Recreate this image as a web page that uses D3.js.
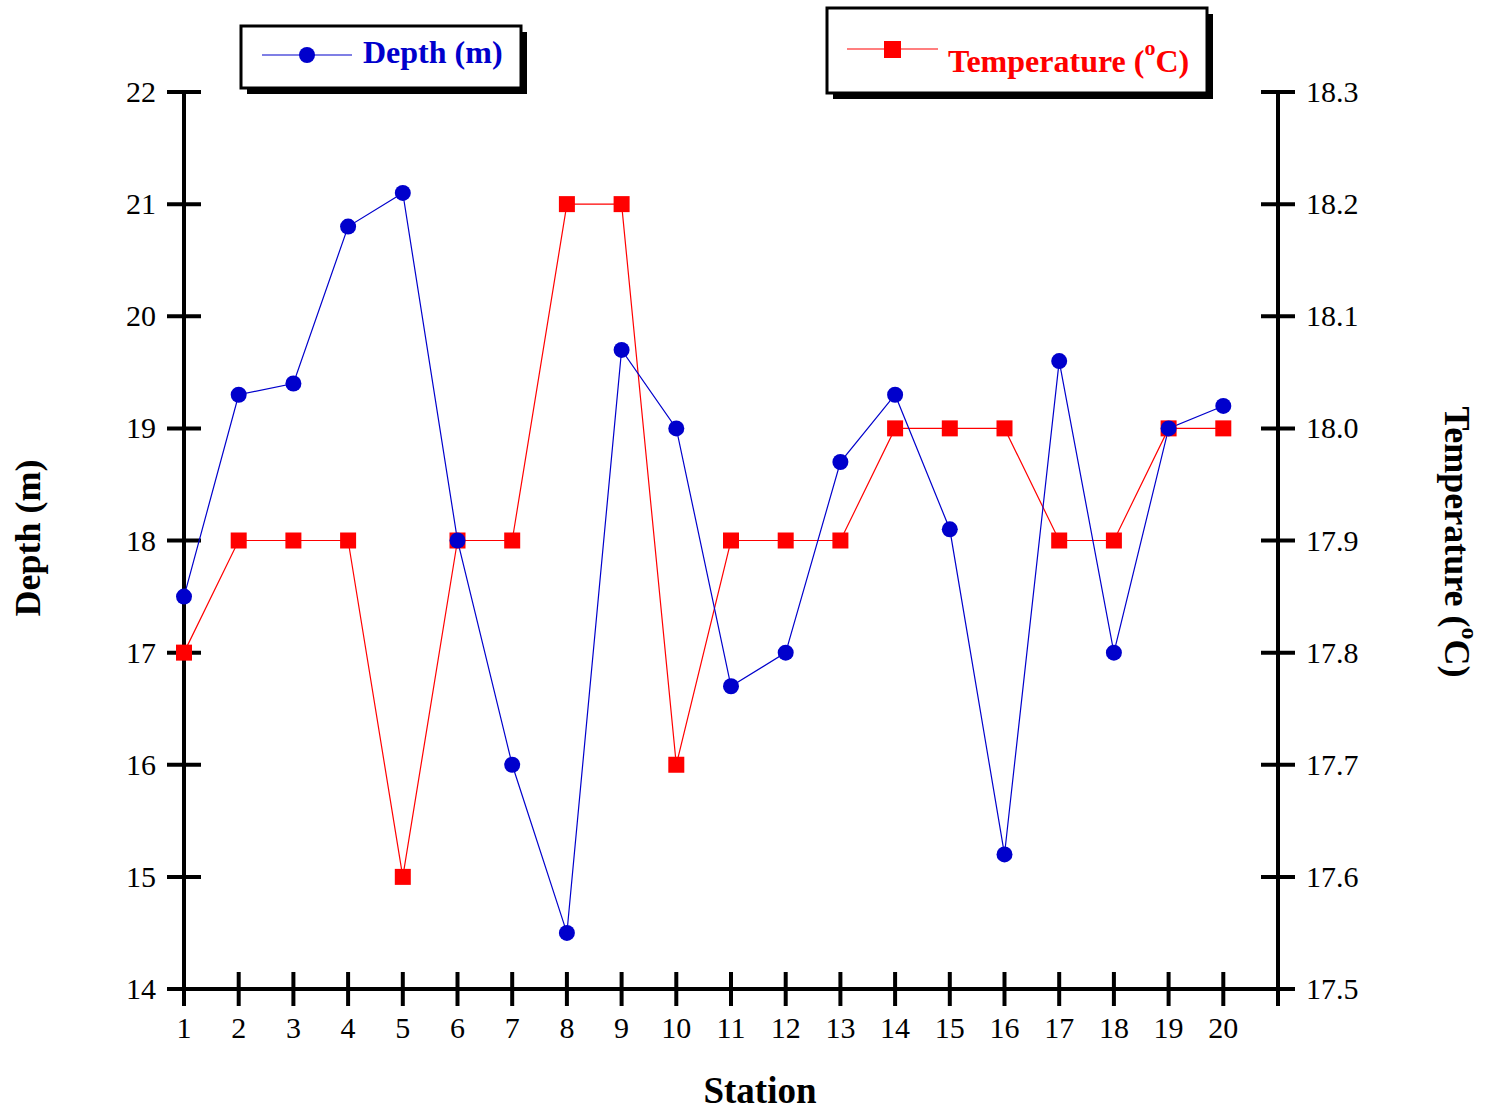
<!DOCTYPE html>
<html><head><meta charset="utf-8">
<script src="https://cdn.jsdelivr.net/npm/d3@7/dist/d3.min.js"></script>
<style>body{margin:0;background:#fff}svg{display:block}text{font-family:"Liberation Serif","Times New Roman",serif}</style>
</head><body><svg id="c" width="1494" height="1113"></svg>
<script>
const stations = [1,2,3,4,5,6,7,8,9,10,11,12,13,14,15,16,17,18,19,20];
const depth = [17.5,19.3,19.4,20.8,21.1,18.0,16.0,14.5,19.7,19.0,16.7,17.0,18.7,19.3,18.1,15.2,19.6,17.0,19.0,19.2];
const temperature = [17.8,17.9,17.9,17.9,17.6,17.9,17.9,18.2,18.2,17.7,17.9,17.9,17.9,18.0,18.0,18.0,17.9,17.9,18.0,18.0];
const depthTicks = [14,15,16,17,18,19,20,21,22];
const tempTicks = [17.5,17.6,17.7,17.8,17.9,18.0,18.1,18.2,18.3];
const xTicks = [1,2,3,4,5,6,7,8,9,10,11,12,13,14,15,16,17,18,19,20,21];

const svg = d3.select("#c");
const L = 184, R = 1278, T = 92, B = 989;
const x = d3.scaleLinear().domain([1,21]).range([L,R]);
const yD = d3.scaleLinear().domain([14,22]).range([B,T]);
const yT = d3.scaleLinear().domain([17.5,18.3]).range([B,T]);
const blue = "#0000cc", red = "#ff0000";

// axes
const g = svg.append("g").attr("stroke","#000").attr("stroke-width",4);
g.append("line").attr("x1",L).attr("x2",L).attr("y1",T).attr("y2",B+17);
g.append("line").attr("x1",R).attr("x2",R).attr("y1",T).attr("y2",B+17);
g.append("line").attr("x1",L-17).attr("x2",R+17).attr("y1",B).attr("y2",B);
depthTicks.forEach(v=>{ if(v!==14) g.append("line").attr("x1",L-17).attr("x2",L+17).attr("y1",yD(v)).attr("y2",yD(v)); });
tempTicks.forEach(v=>{ if(v!==17.5) g.append("line").attr("x1",R-17).attr("x2",R+17).attr("y1",yT(v)).attr("y2",yT(v)); });
xTicks.forEach(v=>{ g.append("line").attr("x1",x(v)).attr("x2",x(v)).attr("y1",B-17).attr("y2",B+17); });

svg.selectAll(".dl").data(depthTicks).join("text").attr("x",156).attr("y",d=>yD(d)+10)
  .attr("text-anchor","end").attr("font-size",30).text(d=>d);
svg.selectAll(".tl").data(tempTicks).join("text").attr("x",1306).attr("y",d=>yT(d)+10)
  .attr("text-anchor","start").attr("font-size",30).text(d=>d.toFixed(1));
svg.selectAll(".xl").data(stations).join("text").attr("x",d=>x(d)).attr("y",1038)
  .attr("text-anchor","middle").attr("font-size",30).text(d=>d);

// titles
svg.append("text").attr("x",760).attr("y",1103).attr("text-anchor","middle").attr("font-size",37).attr("font-weight","bold").text("Station");
svg.append("text").attr("transform","translate(40,538) rotate(-90)").attr("text-anchor","middle").attr("font-size",36).attr("font-weight","bold").text("Depth (m)");
const rt = svg.append("text").attr("transform","translate(1445,542) rotate(90)").attr("text-anchor","middle").attr("font-size",36).attr("font-weight","bold");
rt.append("tspan").text("Temperature (");
rt.append("tspan").attr("dy",-17).attr("font-size",24).text("o");
rt.append("tspan").attr("dy",17).text("C)");

// lines
const lineD = d3.line().x((d,i)=>x(stations[i])).y(d=>yD(d));
const lineT = d3.line().x((d,i)=>x(stations[i])).y(d=>yT(d));
svg.append("path").attr("d",lineT(temperature)).attr("fill","none").attr("stroke",red).attr("stroke-width",1.2);
svg.append("path").attr("d",lineD(depth)).attr("fill","none").attr("stroke",blue).attr("stroke-width",1.2);
svg.selectAll(".sq").data(temperature).join("rect").attr("x",(d,i)=>x(stations[i])-8).attr("y",d=>yT(d)-8)
  .attr("width",16).attr("height",16).attr("fill",red);
svg.selectAll(".ci").data(depth).join("circle").attr("cx",(d,i)=>x(stations[i])).attr("cy",d=>yD(d)).attr("r",8).attr("fill",blue);

// legends
function box(x0,y0,w,h){
  svg.append("rect").attr("x",x0+6).attr("y",y0+6).attr("width",w).attr("height",h).attr("fill","#000");
  svg.append("rect").attr("x",x0).attr("y",y0).attr("width",w).attr("height",h).attr("fill","#fff").attr("stroke","#000").attr("stroke-width",3);
}
box(241,26,280,62);
svg.append("line").attr("x1",262).attr("x2",352).attr("y1",55).attr("y2",55).attr("stroke",blue).attr("stroke-width",1.2);
svg.append("circle").attr("cx",307).attr("cy",55).attr("r",8).attr("fill",blue);
svg.append("text").attr("x",363).attr("y",63).attr("font-size",32).attr("font-weight","bold").attr("fill",blue).text("Depth (m)");

box(827,8,380,85);
svg.append("line").attr("x1",847).attr("x2",938).attr("y1",49).attr("y2",49).attr("stroke",red).attr("stroke-width",1.2);
svg.append("rect").attr("x",884).attr("y",41).attr("width",17).attr("height",17).attr("fill",red);
const lt = svg.append("text").attr("x",948).attr("y",72).attr("font-size",32).attr("font-weight","bold").attr("fill",red);
lt.append("tspan").text("Temperature (");
lt.append("tspan").attr("dy",-17).attr("font-size",22).text("o");
lt.append("tspan").attr("dy",17).text("C)");
</script></body></html>
